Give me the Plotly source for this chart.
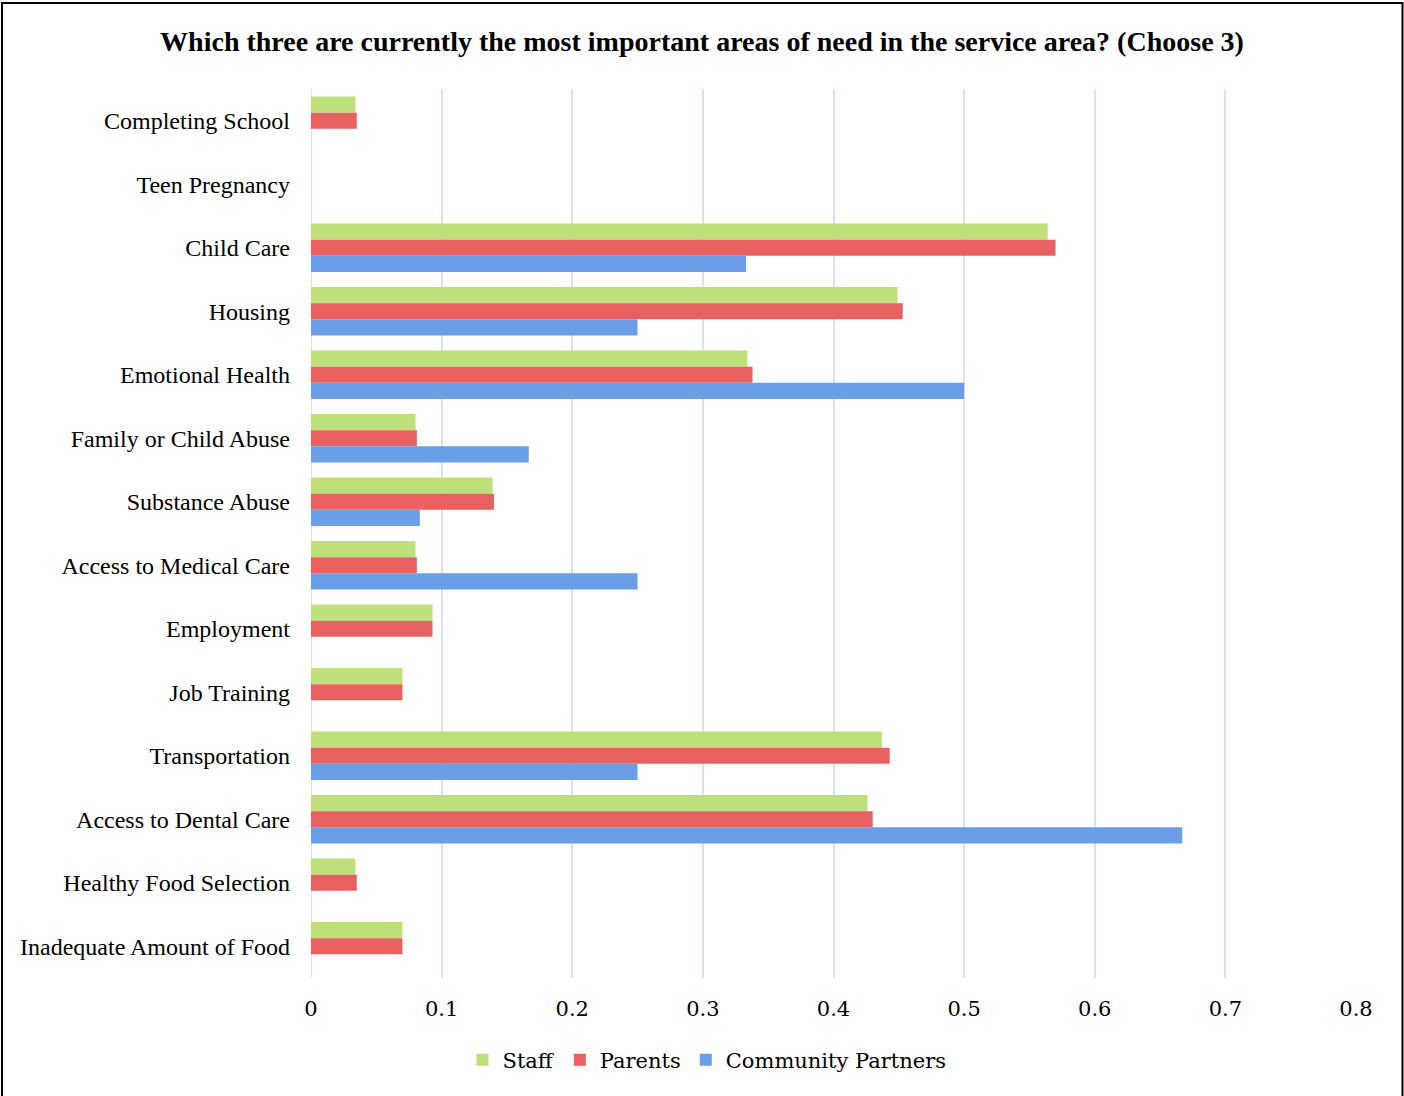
import plotly.graph_objects as go

# Survey categories, top to bottom
categories = [
    "Completing School",
    "Teen Pregnancy",
    "Child Care",
    "Housing",
    "Emotional Health",
    "Family or Child Abuse",
    "Substance Abuse",
    "Access to Medical Care",
    "Employment",
    "Job Training",
    "Transportation",
    "Access to Dental Care",
    "Healthy Food Selection",
    "Inadequate Amount of Food",
]

staff = [0.034, 0, 0.564, 0.449, 0.334, 0.080, 0.139, 0.080, 0.093, 0.070, 0.437, 0.426, 0.034, 0.070]
parents = [0.035, 0, 0.570, 0.453, 0.338, 0.081, 0.140, 0.081, 0.093, 0.070, 0.443, 0.430, 0.035, 0.070]
community_partners = [0, 0, 0.333, 0.25, 0.5, 0.1667, 0.0833, 0.25, 0, 0, 0.25, 0.667, 0, 0]

x_ticks = [0, 0.1, 0.2, 0.3, 0.4, 0.5, 0.6, 0.7, 0.8]
x_tick_text = ["0", "0.1", "0.2", "0.3", "0.4", "0.5", "0.6", "0.7", "0.8"]

series = [
    ("Staff", staff, "#bde07a"),
    ("Parents", parents, "#e8605f"),
    ("Community Partners", community_partners, "#6a9ee6"),
]

SERIF = "Liberation Serif, Times New Roman, serif"
WIDE_SERIF = "DejaVu Serif, Georgia, serif"

fig = go.Figure()
for name, vals, color in series:
    fig.add_trace(go.Bar(
        y=categories,
        x=vals,
        name=name,
        orientation="h",
        marker=dict(color=color, line=dict(width=0)),
    ))

W, H = 1404, 1096
L, R, T, B = 311, 48, 89, 118
pw, ph = W - L - R, H - T - B


def px_x(x):
    return (x - L) / pw


def px_y(y):
    return (H - B - y) / ph


fig.update_layout(
    width=W,
    height=H,
    margin=dict(l=L, r=R, t=T, b=B, pad=0),
    paper_bgcolor="white",
    plot_bgcolor="white",
    barmode="group",
    bargap=0.24,
    bargroupgap=0,
    font=dict(family=SERIF, size=24, color="#000000"),
    title=dict(
        text="<b>Which three are currently the most important areas of need in the service area? (Choose 3)</b>",
        x=0.5,
        xanchor="center",
        xref="container",
        y=1 - 41 / H,
        yref="container",
        yanchor="middle",
        font=dict(family=SERIF, size=28, color="#000000"),
    ),
    xaxis=dict(
        range=[0, 0.8],
        tickvals=x_ticks,
        ticktext=x_tick_text,
        showgrid=True,
        gridcolor="#d9e2f3",
        gridwidth=2,
        zeroline=False,
        showline=False,
        ticks="",
        ticklabelstandoff=16,
        tickfont=dict(family=WIDE_SERIF, size=21),
        fixedrange=True,
    ),
    yaxis=dict(
        categoryorder="array",
        categoryarray=categories,
        autorange="reversed",
        showgrid=False,
        zeroline=False,
        showline=False,
        ticks="",
        ticklabelstandoff=20,
        automargin=False,
        tickfont=dict(family=SERIF, size=24),
    ),
    showlegend=True,
    legend=dict(
        orientation="h",
        x=px_x(707),
        xanchor="center",
        y=px_y(1060),
        yanchor="middle",
        font=dict(family=WIDE_SERIF, size=21),
        itemwidth=30,
        traceorder="normal",
        bgcolor="rgba(0,0,0,0)",
    ),
    shapes=[
        # vertical line at zero
        dict(type="line", xref="x", yref="paper", x0=0, x1=0, y0=0, y1=1,
             line=dict(color="#d9e2f3", width=2), layer="below"),
        # chart frame (open at the bottom edge of the page)
        dict(type="rect", xref="paper", yref="paper",
             x0=px_x(2), x1=px_x(1402.5), y0=px_y(1110), y1=px_y(3),
             line=dict(color="#000000", width=2), fillcolor="rgba(0,0,0,0)"),
    ],
)

fig.write_html("out.html")
